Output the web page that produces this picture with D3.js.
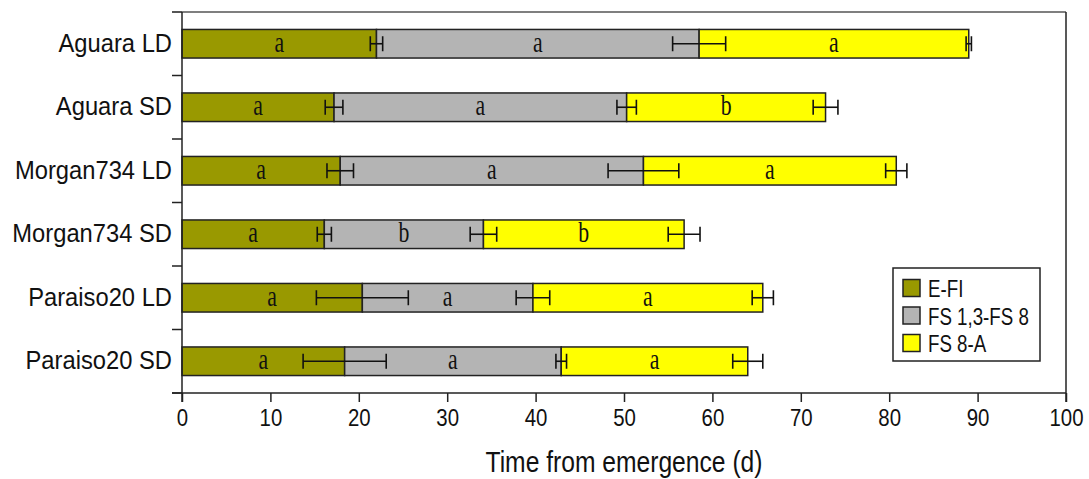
<!DOCTYPE html>
<html>
<head>
<meta charset="utf-8">
<script src="https://cdn.jsdelivr.net/npm/d3@7"></script>
<style>
  body { margin: 0; background: #fff; }
  svg { display: block; }
</style>
</head>
<body>
<div id="chart"></div>
<script>
// values (days from emergence)
const categories = ["Aguara LD", "Aguara SD", "Morgan734 LD", "Morgan734 SD", "Paraiso20 LD", "Paraiso20 SD"];
const phases = ["E-FI", "FS 1,3-FS 8", "FS 8-A"];
const efi = [22.0, 17.2, 17.9, 16.1, 20.4, 18.4];
const efiErr = [0.7, 1.0, 1.5, 0.8, 5.2, 4.7];
const fs = [36.5, 33.1, 34.3, 18.0, 19.3, 24.5];
const fsErr = [3.0, 1.1, 4.0, 1.5, 1.9, 0.6];
const fa = [30.5, 22.5, 28.6, 22.7, 26.0, 21.1];
const faErr = [0.3, 1.4, 1.2, 1.8, 1.2, 1.7];
const efiLetters = ["a", "a", "a", "a", "a", "a"];
const fsLetters = ["a", "a", "a", "b", "a", "a"];
const faLetters = ["a", "b", "a", "b", "a", "a"];
const xTicks = [0, 10, 20, 30, 40, 50, 60, 70, 80, 90, 100];

const width = 1089, height = 479;
const margin = { top: 12, right: 23, bottom: 86, left: 182 };
const colors = ["#999900", "#b4b4b4", "#ffff00"];
const sansFont = "'Liberation Sans', sans-serif";

const rows = categories.map((c, i) => ({
  name: c,
  "E-FI": efi[i], "FS 1,3-FS 8": fs[i], "FS 8-A": fa[i],
  err: [efiErr[i], fsErr[i], faErr[i]],
  letters: [efiLetters[i], fsLetters[i], faLetters[i]]
}));

const stacked = d3.stack().keys(phases)(rows);

const svg = d3.select("#chart").append("svg")
  .attr("width", width)
  .attr("height", height);

const x = d3.scaleLinear()
  .domain([0, 100])
  .range([margin.left, width - margin.right]);

const y = d3.scaleBand()
  .domain(categories)
  .range([margin.top, height - margin.bottom])
  .padding(0);

const barH = y.step() * 0.45;
const barY = d => y(d.data.name) + (y.step() - barH) / 2;

// squeeze text horizontally around its anchor point
const squeeze = (sx) => function() {
  const t = d3.select(this);
  const ax = +t.attr("x") || 0;
  t.attr("transform", `translate(${ax},0) scale(${sx},1) translate(${-ax},0)`);
};

// stacked bars
const layers = svg.append("g")
  .selectAll("g")
  .data(stacked)
  .join("g")
    .attr("fill", (d, i) => colors[i]);

layers.selectAll("rect")
  .data(d => d)
  .join("rect")
    .attr("x", d => x(d[0]))
    .attr("y", barY)
    .attr("width", d => x(d[1]) - x(d[0]))
    .attr("height", barH)
    .attr("stroke", "#222")
    .attr("stroke-width", 1.5);

// significance letters
const letterG = svg.append("g");
stacked.forEach((layer, li) => {
  letterG.append("g").selectAll("text")
    .data(layer)
    .join("text")
      .attr("x", d => (x(d[0]) + x(d[1])) / 2)
      .attr("y", d => barY(d) + barH / 2 + 8)
      .attr("text-anchor", "middle")
      .attr("font-family", "'Liberation Serif', serif")
      .attr("font-size", 29)
      .attr("fill", "#111")
      .text(d => d.data.letters[li])
      .each(squeeze(0.75));
});

// error bars at the end of each segment, drawn over all bars
const capH = 7.5;
const errG = svg.append("g")
  .attr("stroke", "#111")
  .attr("stroke-width", 1.6)
  .attr("fill", "none");
stacked.forEach((layer, li) => {
  layer.forEach(d => {
    const cy = barY(d) + barH / 2;
    const e = d.data.err[li];
    const x0 = x(d[1] - e), x1 = x(d[1] + e);
    errG.append("line").attr("x1", x0).attr("x2", x1).attr("y1", cy).attr("y2", cy);
    errG.append("line").attr("x1", x0).attr("x2", x0).attr("y1", cy - capH).attr("y2", cy + capH);
    errG.append("line").attr("x1", x1).attr("x2", x1).attr("y1", cy - capH).attr("y2", cy + capH);
  });
});

// x axis
const xAxis = svg.append("g")
  .attr("transform", `translate(0,${height - margin.bottom})`)
  .call(d3.axisBottom(x).tickValues(xTicks).tickSize(9).tickPadding(7));
xAxis.select(".domain").remove();
xAxis.selectAll("line").attr("stroke", "#222").attr("stroke-width", 1.5);
xAxis.selectAll("text")
  .attr("font-family", sansFont)
  .attr("font-size", 24)
  .attr("fill", "#111")
  .each(squeeze(0.85));

svg.append("text")
  .attr("x", x(50))
  .attr("y", 472)
  .attr("text-anchor", "middle")
  .attr("font-family", sansFont)
  .attr("font-size", 29)
  .attr("fill", "#111")
  .attr("textLength", 277)
  .attr("lengthAdjust", "spacingAndGlyphs")
  .text("Time from emergence (d)");

// y axis labels
const yAxis = svg.append("g")
  .attr("transform", `translate(${margin.left},0)`)
  .call(d3.axisLeft(y).tickSize(0).tickPadding(10));
yAxis.select(".domain").remove();
yAxis.selectAll("text")
  .attr("font-family", sansFont)
  .attr("font-size", 25)
  .attr("fill", "#111")
  .each(squeeze(0.95));

// frame and category boundary ticks
const frame = svg.append("g").attr("stroke", "#222").attr("stroke-width", 1.5);
const yTop = margin.top, yBot = height - margin.bottom;
const bounds = categories.map(c => y(c)).concat([yBot]);
frame.selectAll("line.tick")
  .data(bounds)
  .join("line")
    .attr("class", "tick")
    .attr("x1", margin.left - 10).attr("x2", margin.left)
    .attr("y1", d => d).attr("y2", d => d);
frame.append("line").attr("x1", margin.left - 10).attr("x2", x(100)).attr("y1", yTop).attr("y2", yTop).attr("stroke", "#555");
frame.append("line").attr("x1", margin.left - 10).attr("x2", x(100)).attr("y1", yBot).attr("y2", yBot);
frame.append("line").attr("x1", x(0)).attr("x2", x(0)).attr("y1", yTop).attr("y2", yBot + 9);
frame.append("line").attr("x1", x(100)).attr("x2", x(100)).attr("y1", yTop).attr("y2", yBot + 9);

// legend
const legend = svg.append("g").attr("transform", "translate(893,268)");
legend.append("rect")
  .attr("width", 147).attr("height", 93)
  .attr("fill", "#fff").attr("stroke", "#222").attr("stroke-width", 1.5);
const item = legend.selectAll("g.item")
  .data(phases)
  .join("g")
    .attr("class", "item")
    .attr("transform", (d, i) => `translate(10,${20 + i * 27.5})`);
item.append("rect")
  .attr("x", 0).attr("y", -8.5)
  .attr("width", 17).attr("height", 17)
  .attr("fill", (d, i) => colors[i])
  .attr("stroke", "#222").attr("stroke-width", 1.5);
item.append("text")
  .attr("x", 25).attr("y", 9)
  .attr("font-family", sansFont)
  .attr("font-size", 24)
  .attr("fill", "#111")
  .text(d => d)
  .each(squeeze(0.78));
</script>
</body>
</html>
